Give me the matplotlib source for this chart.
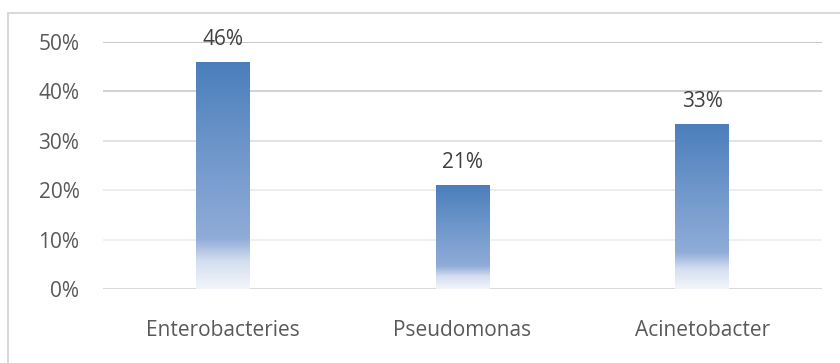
import matplotlib
matplotlib.use("Agg")
import matplotlib.pyplot as plt
import numpy as np
from matplotlib.colors import LinearSegmentedColormap
from matplotlib.patches import Rectangle

categories = ["Enterobacteries", "Pseudomonas", "Acinetobacter"]
values = [0.46, 0.21, 0.335]
value_labels = ["46%", "21%", "33%"]
yticks = [0.0, 0.1, 0.2, 0.3, 0.4, 0.5]
ytick_labels = ["0%", "10%", "20%", "30%", "40%", "50%"]

plt.rcParams['font.family'] = ['Open Sans', 'DejaVu Sans']

fig = plt.figure(figsize=(8.4, 3.63), dpi=100)
ax = fig.add_axes([103/840, (363-289)/363, (822-103)/840, (289-42)/363])

# border around chart area
fig.patches.append(Rectangle((8/840, -0.1), 1.2, (363-13)/363 + 0.1, transform=fig.transFigure,
                             fill=False, edgecolor='#d9d9d9', linewidth=1.5, zorder=0))

grid_colors = ['#d9d9d9', '#f0f0f0', '#ececec', '#e2e2e2', '#d2d2d2', '#c8c8c8']
for y, c in zip(yticks, grid_colors):
    ax.axhline(y, color=c, linewidth=1.4, zorder=1)

x = np.arange(len(categories))
cmap = LinearSegmentedColormap.from_list(
    'grad', [(0.0, '#f3f6fb'), (0.12, '#d5dff0'), (0.22, '#90acd8'),
             (0.6, '#6f97cb'), (1.0, '#4a7ebb')])
bars = ax.bar(x, values, width=0.225, color='none', edgecolor='none', zorder=2)
grad = np.linspace(0, 1, 256).reshape(-1, 1)
for b in bars:
    x0, y0 = b.get_x(), b.get_y()
    w, h = b.get_width(), b.get_height()
    im = ax.imshow(grad, cmap=cmap, origin='lower', aspect='auto',
                   extent=[x0, x0 + w, y0, y0 + h], zorder=2, interpolation='bicubic')
    im.set_clip_path(b)

for xi, v, lab in zip(x, values, value_labels):
    ax.annotate(lab, (xi, v), xytext=(0, 8.5), textcoords='offset points',
                ha='center', va='bottom', fontsize=15, color='#404040')

ax.set_xlim(-0.5, 2.5)
ax.set_ylim(0, 0.5)
ax.set_yticks(yticks)
ax.set_yticklabels(ytick_labels)
ax.set_xticks(x)
ax.set_xticklabels(categories)
ax.tick_params(axis='y', length=0, pad=17, labelsize=15, labelcolor='#595959')
ax.tick_params(axis='x', length=0, pad=22, labelsize=15, labelcolor='#595959')
for s in ax.spines.values():
    s.set_visible(False)
ax.set_facecolor('none')

fig.savefig("out.png", dpi=100)
